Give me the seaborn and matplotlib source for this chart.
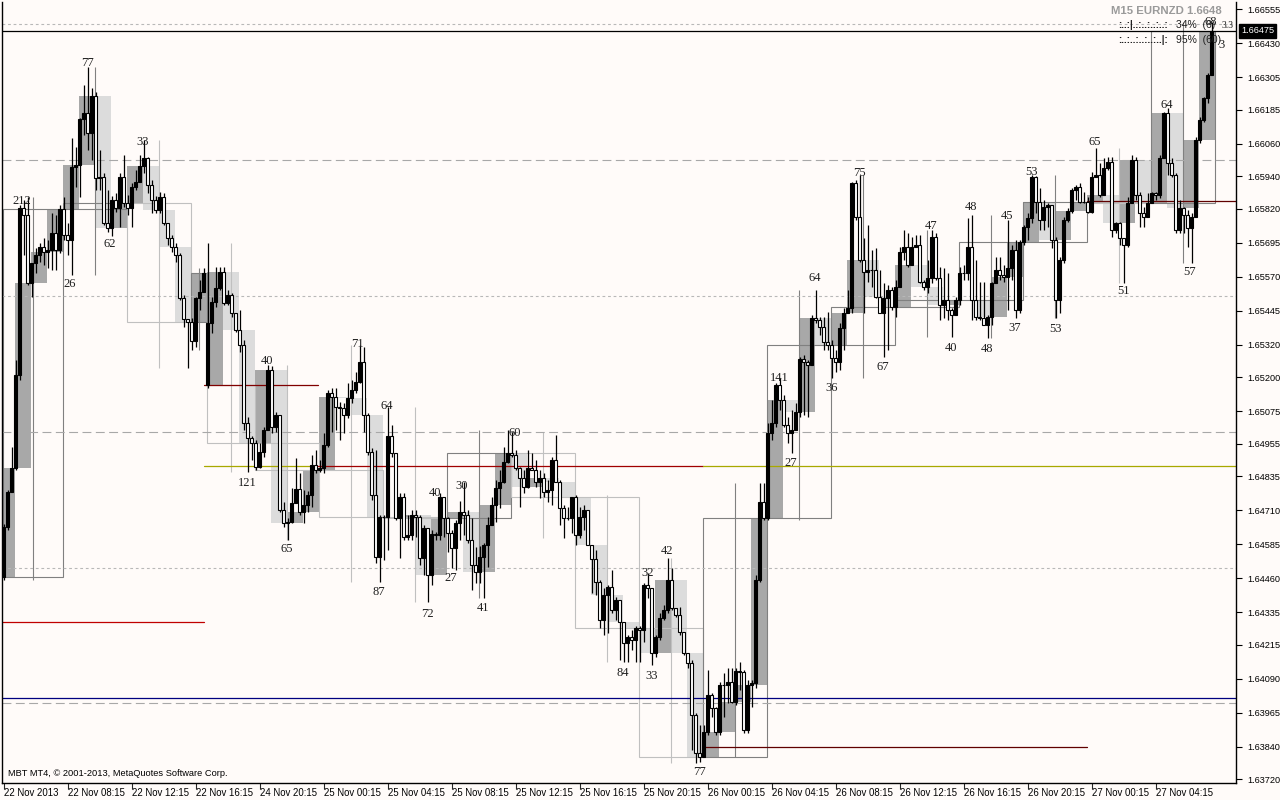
import numpy as np
import pandas as pd
import seaborn as sns
import matplotlib.pyplot as plt
from matplotlib.patches import Rectangle

sns.set_theme(style='white')
plt.rcParams['font.family'] = ['Liberation Sans', 'DejaVu Sans']

# EURNZD M15, prices in points (1 point = 0.00001)
close_pts = [
    164649, 164777, 164866, 165208, 165823, 165797, 165547, 165620, 165650, 165679,
    165661, 165668, 165731, 165668, 165819, 165723, 165705, 165973, 165981, 166150,
    166172, 166099, 166235, 165933, 165937, 165767, 165749, 165852, 165823, 165937,
    165841, 165823, 165900, 165918, 165977, 166007, 165907, 165852, 165815, 165863,
    165767, 165712, 165679, 165650, 165491, 165414, 165403, 165333, 165491, 165513,
    165583, 165399, 165477, 165528, 165587, 165473, 165502, 165436, 165374, 165318,
    165031, 164976, 164958, 164869, 164925, 165006, 165226, 165017, 165061, 164711,
    164663, 164667, 164737, 164788, 164704, 164730, 164766, 164877, 164858, 164866,
    164950, 165142, 165127, 165090, 165087, 165061, 165123, 165153, 165182, 165256,
    165061, 164925, 164766, 164538, 164685, 164685, 164984, 164921, 164682, 164759,
    164612, 164619, 164693, 164685, 164535, 164645, 164472, 164623, 164619, 164759,
    164682, 164627, 164571, 164663, 164704, 164693, 164601, 164509, 164483, 164538,
    164582, 164656, 164730, 164792, 164814, 164888, 164921, 164914, 164866, 164829,
    164796, 164866, 164858, 164814, 164829, 164777, 164785, 164895, 164814, 164719,
    164682, 164682, 164759, 164619, 164685, 164711, 164582, 164531, 164446, 164306,
    164398, 164428, 164343, 164380, 164299, 164222, 164244, 164233, 164277, 164270,
    164435, 164424, 164185, 164244, 164314, 164343, 164454, 164351, 164325, 164262,
    164185, 164148, 163957, 163817, 163802, 163894, 164030, 163983, 163894, 164067,
    164067, 164078, 164005, 164119, 164115, 163902, 164067, 164075, 164454, 164741,
    164682, 164995, 165031, 165171, 165116, 165024, 164995, 165006, 165072, 165267,
    165256, 165245, 165418, 165410, 165385, 165329, 165318, 165271, 165256, 165381,
    165436, 165455, 165915, 165789, 165631, 165587, 165594, 165594, 165495, 165436,
    165491, 165521, 165458, 165532, 165661, 165679, 165613, 165679, 165686, 165550,
    165532, 165565, 165716, 165565, 165466, 165484, 165447, 165429, 165484, 165583,
    165583, 165679, 165484, 165421, 165418, 165392, 165421, 165547, 165594, 165576,
    165569, 165602, 165668, 165447, 165697, 165753, 165786, 165937, 165845, 165778,
    165826, 165834, 165705, 165484, 165631, 165778, 165812, 165889, 165900, 165845,
    165845, 165808, 165937, 165944, 165870, 165970, 165992, 165742, 165767, 165712,
    165686, 165841, 165999, 165870, 165804, 165789, 165841, 165878, 165870, 166007,
    166172, 165988, 165944, 165742, 165823, 165797, 165749, 165789, 166073, 166146,
    166227, 166312, 166475,
]
high_pts = [
    164660, 164785, 164943, 165263, 165834, 165852, 165863, 165620, 165675, 165694,
    165712, 165705, 165804, 165797, 165834, 165863, 165767, 166080, 166047, 166154,
    166275, 166341, 166264, 166249, 166036, 165951, 165889, 165867, 165878, 165951,
    166018, 165870, 165915, 165962, 166018, 166073, 166010, 165926, 165867, 165881,
    165878, 165756, 165723, 165694, 165657, 165502, 165410, 165418, 165495, 165558,
    165602, 165694, 165495, 165605, 165605, 165605, 165521, 165510, 165403, 165447,
    165337, 165053, 164984, 164969, 164958, 165017, 165245, 165241, 165072, 165050,
    164741, 164682, 164792, 164903, 164847, 164785, 164781, 164914, 164932, 164895,
    164995, 165153, 165160, 165160, 165109, 165105, 165179, 165190, 165219, 165318,
    165311, 165068, 164939, 164932, 164693, 164693, 165090, 165024, 164921, 164774,
    164774, 164693, 164711, 164711, 164693, 164656, 164638, 164638, 164630, 164774,
    164759, 164685, 164638, 164674, 164744, 164814, 164711, 164682, 164575, 164579,
    164590, 164685, 164759, 164822, 164858, 164943, 165006, 164998, 164932, 164869,
    164858, 164932, 164921, 164895, 164858, 164847, 164822, 164906, 164987, 164822,
    164730, 164722, 164759, 164766, 164722, 164730, 164711, 164564, 164564, 164454,
    164424, 164435, 164490, 164391, 164380, 164277, 164251, 164270, 164284, 164284,
    164443, 164479, 164424, 164251, 164332, 164362, 164535, 164498, 164351, 164354,
    164262, 164185, 164159, 163964, 163920, 163920, 164122, 164038, 163986, 164078,
    164111, 164130, 164130, 164130, 164152, 164122, 164086, 164086, 164472, 164811,
    164811, 165031, 165116, 165179, 165197, 165134, 165053, 165079, 165105, 165274,
    165282, 165263, 165429, 165521, 165421, 165421, 165440, 165337, 165300, 165399,
    165455, 165521, 165918, 165926, 165944, 165712, 165760, 165668, 165675, 165594,
    165547, 165539, 165532, 165558, 165679, 165742, 165731, 165716, 165723, 165723,
    165558, 165631, 165742, 165731, 165605, 165602, 165583, 165455, 165495, 165605,
    165613, 165786, 165797, 165631, 165550, 165550, 165429, 165550, 165642, 165642,
    165613, 165778, 165686, 165705, 165705, 165760, 165804, 165944, 165940, 165896,
    165852, 165841, 165789, 165716, 165642, 165789, 165823, 165896, 165907, 165915,
    165881, 165863, 165955, 166043, 165988, 166007, 166010, 166010, 165771, 165771,
    165712, 165863, 166018, 166010, 165881, 165826, 165878, 165881, 165881, 166018,
    166176, 166191, 166007, 165951, 165852, 165826, 165815, 165804, 166084, 166157,
    166231, 166319, 166507,
]
low_pts = [
    164454, 164638, 164777, 164858, 165190, 165650, 165539, 165495, 165583, 165624,
    165613, 165602, 165594, 165594, 165657, 165705, 165650, 165576, 165900, 165863,
    166091, 166036, 166001, 165889, 165889, 165760, 165734, 165720, 165808, 165753,
    165826, 165797, 165753, 165889, 165926, 165951, 165878, 165804, 165804, 165804,
    165760, 165686, 165661, 165624, 165484, 165385, 165234, 165300, 165311, 165447,
    165532, 165160, 165363, 165458, 165521, 165466, 165466, 165421, 165366, 165293,
    165006, 164851, 164895, 164858, 164866, 164906, 165017, 164995, 164998, 164704,
    164649, 164601, 164663, 164737, 164693, 164663, 164704, 164722, 164847, 164851,
    164847, 164943, 164998, 165006, 164969, 164995, 165050, 165105, 165142, 165179,
    164998, 164914, 164748, 164516, 164446, 164527, 164564, 164906, 164674, 164535,
    164601, 164601, 164601, 164612, 164509, 164472, 164373, 164435, 164601, 164601,
    164612, 164557, 164498, 164490, 164601, 164619, 164590, 164417, 164443, 164443,
    164387, 164501, 164667, 164667, 164719, 164811, 164884, 164906, 164858, 164722,
    164774, 164792, 164858, 164796, 164755, 164759, 164741, 164730, 164814, 164656,
    164608, 164674, 164627, 164582, 164608, 164638, 164582, 164406, 164398, 164277,
    164251, 164259, 164332, 164306, 164159, 164152, 164152, 164196, 164152, 164152,
    164225, 164387, 164141, 164170, 164233, 164306, 164332, 164343, 164317, 164251,
    164178, 164130, 163828, 163780, 163784, 163839, 163883, 163949, 163883, 163883,
    163949, 164001, 164001, 163994, 164049, 163891, 163891, 163986, 164056, 164446,
    164674, 164674, 164969, 165017, 165079, 165017, 164958, 164921, 165006, 165053,
    165061, 165053, 165252, 165399, 165355, 165300, 165300, 165197, 165219, 165226,
    165300, 165436, 165436, 165778, 165624, 165436, 165550, 165532, 165491, 165436,
    165274, 165300, 165447, 165421, 165532, 165631, 165605, 165613, 165679, 165547,
    165521, 165510, 165547, 165558, 165410, 165418, 165410, 165348, 165429, 165466,
    165558, 165558, 165410, 165410, 165410, 165403, 165344, 165392, 165547, 165558,
    165550, 165447, 165558, 165418, 165436, 165686, 165705, 165767, 165804, 165742,
    165742, 165753, 165675, 165418, 165436, 165620, 165771, 165804, 165852, 165841,
    165841, 165804, 165804, 165937, 165863, 165878, 165962, 165716, 165731, 165686,
    165547, 165679, 165841, 165852, 165753, 165753, 165789, 165841, 165852, 165859,
    166007, 165944, 165937, 165731, 165731, 165731, 165679, 165620, 165789, 166062,
    166139, 166209, 166319,
]
first_open = 1.64465
weekend_bar = 51          # first bar after the weekend gap
sunday_open = 1.65171
last_price = 1.66475

time_labels = ['22 Nov 2013', '22 Nov 08:15', '22 Nov 12:15', '22 Nov 16:15',
               '24 Nov 20:15', '25 Nov 00:15', '25 Nov 04:15', '25 Nov 08:15',
               '25 Nov 12:15', '25 Nov 16:15', '25 Nov 20:15', '26 Nov 00:15',
               '26 Nov 04:15', '26 Nov 08:15', '26 Nov 12:15', '26 Nov 16:15',
               '26 Nov 20:15', '27 Nov 00:15', '27 Nov 04:15']
price_ticks = [1.66555, 1.66430, 1.66305, 1.66185, 1.66060, 1.65940, 1.65820,
               1.65695, 1.65570, 1.65445, 1.65320, 1.65200, 1.65075, 1.64955,
               1.64835, 1.64710, 1.64585, 1.64460, 1.64335, 1.64215, 1.64090,
               1.63965, 1.63840, 1.63720]

dashed_levels = [1.6600, 1.6500, 1.6400]
dotted_levels = [1.6650, 1.6550, 1.6450]

seg_price = [1.64299, 1.65171, 1.64873, 1.64873, 1.64873, 1.63839, 1.65848, 1.64020, 1.66475]
seg_start = [-0.4, 50, 50, 76.6, 174.9, 174.9, 270.9, -0.4, -0.4]
seg_end = [50, 78.6, 76.6, 174.9, 308.1, 270.9, 308.1, 308.1, 308.1]
seg_color = ['#c00000', '#800000', '#a8a800', '#a00000', '#a8a800',
             '#600000', '#600000', '#000080', '#000000']

vol_text = ['77', '212', '33', '62', '26', '40', '121', '71', '65', '64',
            '87', '72', '40', '27', '30', '41', '60', '84', '33', '32',
            '42', '77', '141', '27', '64', '36', '75', '67', '47', '40',
            '48', '48', '45', '37', '53', '53', '65', '51', '64', '57', '68', '3']
vol_bar = [20.9, 4.6, 34.9, 26.6, 16.6, 65.9, 60.9, 88.6, 70.9, 95.9,
           93.9, 105.9, 107.9, 111.9, 114.6, 119.9, 127.9, 154.9, 161.9, 160.9,
           165.9, 173.9, 193.9, 196.9, 202.9, 206.9, 213.9, 219.9, 231.9, 236.9,
           241.9, 245.9, 250.9, 252.9, 256.9, 262.9, 272.9, 279.9, 290.9, 296.6,
           301.9, 304.6]
vol_price = [1.66356, 1.65848, 1.66065, 1.65690, 1.65543, 1.65259, 1.64811, 1.65322,
             1.64568, 1.65094, 1.64409, 1.64328, 1.64774, 1.64461, 1.64800, 1.64351,
             1.64995, 1.64111, 1.64100, 1.64479, 1.64560, 1.63747, 1.65197, 1.64884,
             1.65565, 1.65160, 1.65951, 1.65237, 1.65756, 1.65307, 1.65826, 1.65304,
             1.65793, 1.65381, 1.65955, 1.65377, 1.66065, 1.65517, 1.66202, 1.65587,
             1.66507, 1.66422]

BG = '#fffbf9'

idx = np.arange(len(close_pts))
cl = np.array(close_pts) / 1e5
hi = np.array(high_pts) / 1e5
lo = np.array(low_pts) / 1e5
op = np.r_[first_open, cl[:-1]]
op[weekend_bar] = sunday_open
hi = np.maximum(hi, np.maximum(op, cl))
lo = np.minimum(lo, np.minimum(op, cl))

bars = pd.DataFrame({'bar': idx, 'open': op, 'high': hi, 'low': lo, 'close': cl})
bars['h1'] = (bars['bar'] + 1) // 4
bars['h4'] = (bars['bar'] + 1) // 16 * 2 + (bars['bar'] >= weekend_bar)


def higher_tf(df, key):
    '''
    Groups the M15 bars into bigger candles (H1 / H4)
    '''
    g = df.groupby(key)
    return pd.DataFrame({'first': g['bar'].min(), 'last': g['bar'].max(),
                         'open': g['open'].first(), 'close': g['close'].last(),
                         'high': g['high'].max(), 'low': g['low'].min()})


fig = plt.figure(figsize=(12.8, 8), dpi=100, facecolor=BG)
ax = fig.add_axes([2 / 1280, 17 / 800, 1234 / 1280, 781 / 800])
ax.set_facecolor(BG)
ax.set_xlim(-0.375, 308.1)
ax.set_ylim(1.63707, 1.66581)

# H1 bodies as shaded blocks
for r in higher_tf(bars, 'h1').itertuples():
    col = '#a8a8a8' if r.close > r.open else '#dcdcdc'
    ax.add_patch(Rectangle((r.first - 0.125, min(r.open, r.close)),
                           r.last - r.first + 1, abs(r.close - r.open),
                           facecolor=col, edgecolor='none', zorder=1))

# H4 candles as outlines
for r in higher_tf(bars, 'h4').itertuples():
    col = '#808080' if r.close > r.open else '#c0c0c0'
    ax.add_patch(Rectangle((r.first - 0.125, min(r.open, r.close)),
                           r.last - r.first + 1, abs(r.close - r.open),
                           fill=False, edgecolor=col, linewidth=0.8, zorder=1.5))
    mid = (r.first + r.last + 1) / 2 - 0.125
    ax.vlines(mid, r.low, r.high, color=col, linewidth=0.8, zorder=1.5)

# round number levels
for lv in dashed_levels:
    ax.axhline(lv, color='#a8a8a8', linewidth=0.8, dashes=(8, 4), zorder=1.8)
for lv in dotted_levels:
    ax.axhline(lv, color='#b8b8b8', linewidth=0.8, dashes=(2.5, 2.5), zorder=1.8)

# indicator segments
seg_df = pd.DataFrame({'bar': seg_start + seg_end,
                       'price': seg_price + seg_price,
                       'seg': list(range(len(seg_price))) * 2})
sns.lineplot(data=seg_df, x='bar', y='price', hue='seg',
             palette=dict(enumerate(seg_color)), legend=False,
             estimator=None, sort=False, linewidth=0.9, ax=ax, zorder=2)

# candles
bull = cl > op
ax.vlines(idx, lo, hi, color='black', linewidth=0.9, zorder=3)
ax.bar(idx, np.abs(cl - op), bottom=np.minimum(op, cl), width=0.55,
       color=np.where(bull, 'black', 'white'), edgecolor='black',
       linewidth=0.8, zorder=4)

for t, b, p in zip(vol_text, vol_bar, vol_price):
    ax.text(b, p, t, ha='center', va='center', fontsize=9,
            family='Liberation Serif', color='#1e1e1e', zorder=6, clip_on=False)

# axes look
ax.spines['top'].set_visible(False)
for s in ['left', 'right', 'bottom']:
    ax.spines[s].set_color('black')
    ax.spines[s].set_linewidth(1)
ax.grid(False)
ax.yaxis.tick_right()
ax.set_yticks(price_ticks)
ax.set_yticklabels(['%.5f' % v for v in price_ticks])
ax.tick_params(axis='y', direction='out', length=4, width=0.8, pad=4,
               labelsize=6.6, colors='black', right=True, left=False)
ax.set_xticks(idx[::16][:len(time_labels)])
ax.set_xticklabels([])
ax.tick_params(axis='x', direction='out', length=4, width=0.8, bottom=True)
ax.set_xlabel('')
ax.set_ylabel('')
for k, lab in enumerate(time_labels):
    ax.text(16 * k + 0.2, -0.006, lab, transform=ax.get_xaxis_transform(),
            ha='left', va='top', fontsize=6.9, color='black')

ax.annotate('%.5f' % last_price, xy=(1, last_price),
            xycoords=('axes fraction', 'data'), xytext=(3.5, 0),
            textcoords='offset points', ha='left', va='center', fontsize=6.6,
            color='white', bbox=dict(boxstyle='square,pad=0.25', fc='black', ec='black'))

fig.text(1222 / 1280, 1 - 11 / 800, 'M15 EURNZD 1.6648', ha='right', va='center',
         fontsize=8.2, fontweight='bold', color='#9a9a9a')
fig.text(1118 / 1280, 1 - 25 / 800, ':..:|..:..:..:..:', ha='left', va='center',
         fontsize=7, fontweight='bold', color='#202020')
fig.text(1176 / 1280, 1 - 25 / 800, '34%  (6)', ha='left', va='center',
         fontsize=7.5, color='#202020')
fig.text(1222 / 1280, 1 - 26 / 800, '3.3', ha='left', va='center',
         fontsize=7, family='Liberation Serif', color='#202020')
fig.text(1118 / 1280, 1 - 40 / 800, ':..:..:..:..:..|:', ha='left', va='center',
         fontsize=7, fontweight='bold', color='#202020')
fig.text(1176 / 1280, 1 - 40 / 800, '95%  (60)', ha='left', va='center',
         fontsize=7.5, color='#202020')
fig.text(8 / 1280, 1 - 774 / 800, 'MBT MT4, \u00a9 2001-2013, MetaQuotes Software Corp.',
         ha='left', va='center', fontsize=6.7, color='black')

plt.savefig('out.png', dpi=100, facecolor=BG)
